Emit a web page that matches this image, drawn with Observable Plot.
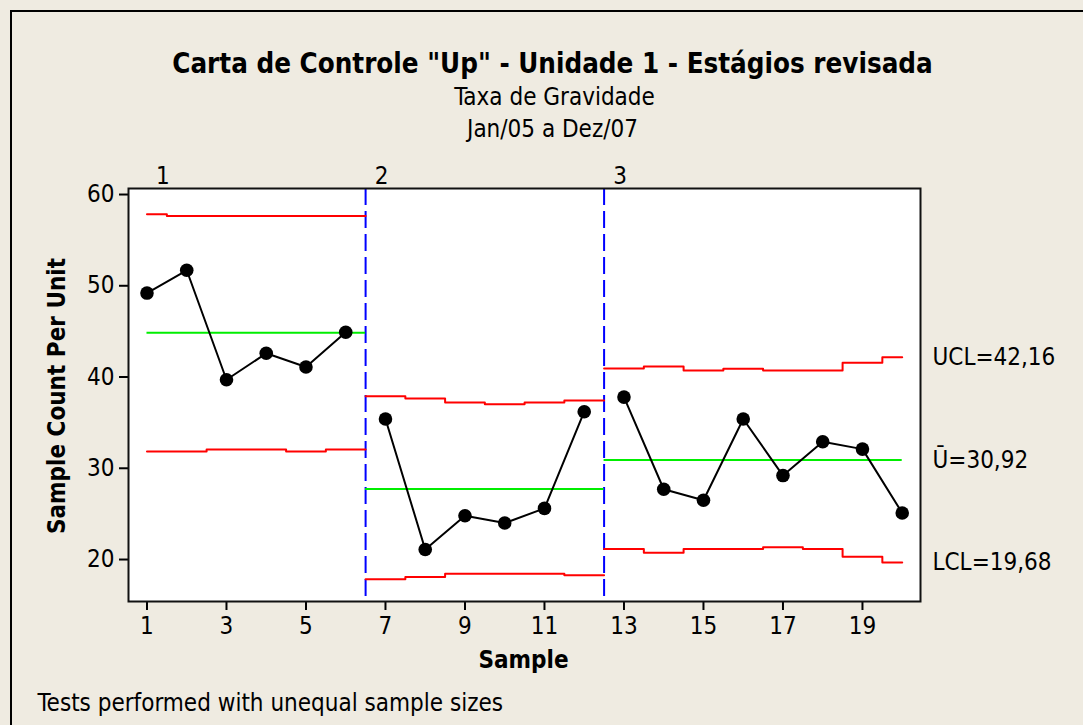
<!DOCTYPE html>
<html>
<head>
<meta charset="utf-8">
<script src="https://cdn.jsdelivr.net/npm/d3@7"></script>
<script src="https://cdn.jsdelivr.net/npm/@observablehq/plot@0.6"></script>
<style>
  html, body { margin: 0; padding: 0; width: 1083px; height: 725px; overflow: hidden; background: #efebe1; }
  #wrap { position: relative; width: 1083px; height: 725px; }
  #border { position: absolute; left: 10px; top: 10px; width: 1100px; height: 740px; border: 2px solid #000; box-sizing: border-box; }
  #chart { position: absolute; left: 0; top: 0; }
</style>
</head>
<body>
<div id="wrap"><div id="border"></div><div id="chart"></div></div>
<script>
// ---- data ----
const samples = [1,2,3,4,5,6,7,8,9,10,11,12,13,14,15,16,17,18,19,20];
const stages  = [1,1,1,1,1,1,2,2,2,2,2,2,3,3,3,3,3,3,3,3];
const values  = [49.2, 51.7, 39.7, 42.6, 41.1, 44.9, 35.4, 21.1, 24.8, 24.0, 25.6, 36.2, 37.8, 27.7, 26.5, 35.4, 29.2, 32.9, 32.1, 25.1];
const ucl     = [57.85, 57.65, 57.65, 57.65, 57.65, 57.65, 37.88, 37.66, 37.22, 37.03, 37.22, 37.44, 40.94, 41.16, 40.72, 40.90, 40.72, 40.72, 41.57, 42.16];
const lcl     = [31.85, 31.85, 32.05, 32.05, 31.85, 32.05, 17.83, 18.08, 18.45, 18.45, 18.45, 18.27, 21.15, 20.75, 21.15, 21.15, 21.34, 21.15, 20.31, 19.68];
const stageIds     = [1, 2, 3];
const stageCenters = [44.85, 27.73, 30.92];
const stageBounds  = [6.5, 12.5];
const xTicks = [1,3,5,7,9,11,13,15,17,19];
const yTicks = [20,30,40,50,60];
const limitLabels = ["UCL=42,16", "\u016A=30,92", "LCL=19,68"];
const limitValues = [42.16, 30.92, 19.68];

const title = "Carta de Controle \"Up\" - Unidade 1 - Estágios revisada";
const subtitle1 = "Taxa de Gravidade";
const subtitle2 = "Jan/05 a Dez/07";
const caption = "Tests performed with unequal sample sizes";

// ---- derived tables ----
const first = samples[0], last = samples[samples.length - 1];
function stepTable(lims) {
  const rows = [];
  samples.forEach((s, i) => {
    const a = Math.max(s - 0.5, first), b = Math.min(s + 0.5, last);
    rows.push({x: a, y: lims[i], g: stages[i]});
    rows.push({x: b, y: lims[i], g: stages[i]});
  });
  return rows;
}
const uclRows = stepTable(ucl);
const lclRows = stepTable(lcl);
const centerRows = stageIds.map((g, k) => {
  const xs = samples.filter((s, i) => stages[i] === g);
  return {g, y: stageCenters[k], x1: Math.max(d3.min(xs) - 0.5, first), x2: Math.min(d3.max(xs) + 0.5, last)};
});
const pts = samples.map((s, i) => ({x: s, y: values[i], g: stages[i]}));
const stageLabelRows = stageIds.map((g, k) => {
  const xs = samples.filter((s, i) => stages[i] === g);
  return {g, x: Math.max(d3.min(xs) - 0.5, first)};
});
const limitRows = limitLabels.map((t, i) => ({t, y: limitValues[i]}));

const FONT = "'DejaVu Sans Condensed', 'DejaVu Sans', sans-serif";
const FS = 24;

const chart = Plot.plot({
  width: 1083,
  height: 725,
  marginLeft: 128,
  marginRight: 163,
  marginTop: 188,
  marginBottom: 124,
  style: {background: "transparent", fontFamily: FONT, fontSize: FS + "px", color: "#000", overflow: "visible"},
  x: {domain: [0.535, 20.46], ticks: xTicks},
  y: {domain: [15.4, 60.66], ticks: yTicks},
  marks: [
    Plot.frame({fill: "white", stroke: null}),
    Plot.axisX({ticks: xTicks, tickSize: 9, tickPadding: 6, tickFormat: d => String(d), strokeWidth: 2, label: null, fontSize: FS}),
    Plot.axisY({ticks: yTicks, tickSize: 9, tickPadding: 5, tickFormat: d => String(d), strokeWidth: 2, label: null, fontSize: FS}),
    Plot.ruleX(stageBounds, {stroke: "#0000ff", strokeWidth: 2, strokeDasharray: "17,6"}),
    Plot.line(uclRows, {x: "x", y: "y", z: "g", stroke: "#ff0000", strokeWidth: 2}),
    Plot.line(lclRows, {x: "x", y: "y", z: "g", stroke: "#ff0000", strokeWidth: 2}),
    Plot.ruleY(centerRows, {y: "y", x1: "x1", x2: "x2", stroke: "#00ee00", strokeWidth: 2}),
    Plot.line(pts, {x: "x", y: "y", z: "g", stroke: "black", strokeWidth: 2}),
    Plot.dot(pts, {x: "x", y: "y", r: 6.8, fill: "black", stroke: null}),
    Plot.frame({stroke: "#111", strokeWidth: 2}),
    // stage labels above the frame
    Plot.text(stageLabelRows, {x: "x", text: d => String(d.g), frameAnchor: "top", dx: 16, dy: -5, lineAnchor: "bottom", fontSize: FS}),
    // limit labels at right
    Plot.text(limitRows, {y: "y", text: "t", frameAnchor: "right", textAnchor: "start", dx: 12, fontSize: FS}),
    // axis titles
    Plot.text(["Sample"], {frameAnchor: "bottom", dx: -1, dy: 66, lineAnchor: "bottom", fontWeight: "bold", fontSize: FS}),
    Plot.text(["Sample Count Per Unit"], {frameAnchor: "left", textAnchor: "middle", dx: -71, dy: 1, rotate: -90, fontWeight: "bold", fontSize: FS}),
    // titles
    Plot.text([title], {frameAnchor: "top-left", textAnchor: "middle", dx: 424, dy: -116, lineAnchor: "bottom", fontWeight: "bold", fontSize: 27.5}),
    Plot.text([subtitle1], {frameAnchor: "top-left", textAnchor: "middle", dx: 426, dy: -84, lineAnchor: "bottom", fontSize: FS}),
    Plot.text([subtitle2], {frameAnchor: "top-left", textAnchor: "middle", dx: 424, dy: -52, lineAnchor: "bottom", fontSize: FS}),
    // caption
    Plot.text([caption], {frameAnchor: "bottom-left", textAnchor: "start", dx: -91, dy: 109, lineAnchor: "bottom", fontSize: FS})
  ]
});
document.getElementById("chart").appendChild(chart);
</script>
</body>
</html>
